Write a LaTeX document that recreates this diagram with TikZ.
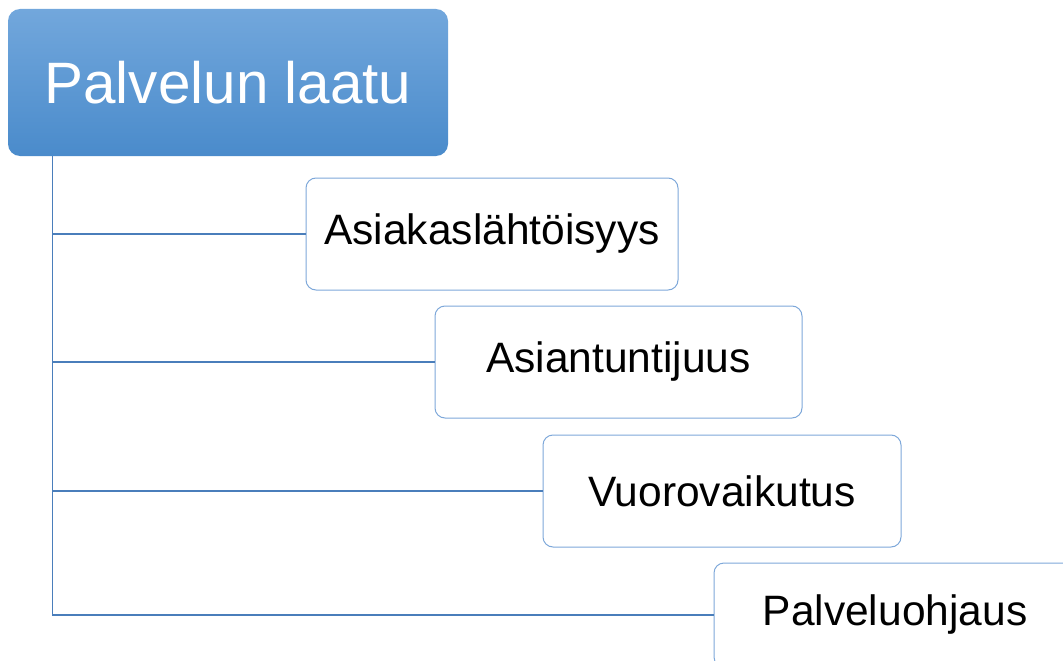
\documentclass[tikz,border=0pt]{standalone}
\usepackage{fontspec}
\setmainfont{Liberation Sans}
\usetikzlibrary{positioning}
\definecolor{topBlueA}{HTML}{72A7DC}
\definecolor{topBlueB}{HTML}{4A8BCB}
\definecolor{lineBlue}{HTML}{4A7EBB}
\definecolor{edgeBlue}{HTML}{7EA8DA}

\begin{document}
\begin{tikzpicture}[
    x=1pt, y=-1pt,
    root/.style={rounded corners=12pt, top color=topBlueA, bottom color=topBlueB, draw=none,
        minimum width=440pt, minimum height=147pt, font=\fontsize{58.4}{60}\selectfont, text=white, inner sep=0pt},
    item/.style={draw=edgeBlue, line width=1pt, rounded corners=10pt, fill=white,
        minimum height=112pt, font=\fontsize{42.5}{44}\selectfont, inner sep=0pt},
    tree/.style={draw=lineBlue, line width=1.5pt}
]
    \useasboundingbox (0,0) rectangle (1063,661);
    \clip (0,0) rectangle (1063,661);

    % Wurzel
    \node[root] (top) at (228,82.5) {Palvelun laatu};

    % Kohdat
    \node[item, minimum width=372pt] (b1) at (492,234) {Asiakaslähtöisyys};
    \node[item, minimum width=367pt] (b2) at (618.5,362) {Asiantuntijuus};
    \node[item, minimum width=358pt] (b3) at (722,491) {Vuorovaikutus};
    \node[item, minimum width=362pt, minimum height=104pt] (b4) at (895,615) {Palveluohjaus};

    % Runko ja haarat
    \coordinate (trunk) at (52.5,156);
    \coordinate (tend) at (trunk |- b4.west);
    \draw[tree] (trunk) -- (tend) -- (b4.west);
    \foreach \b in {b1,b2,b3}
        \draw[tree] (trunk |- \b.west) -- (\b.west);
\end{tikzpicture}
\end{document}
